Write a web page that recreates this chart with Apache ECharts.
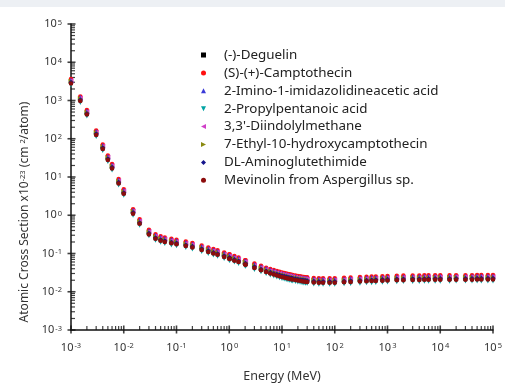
<!DOCTYPE html>
<html>
<head>
<meta charset="utf-8">
<script src="https://cdn.jsdelivr.net/npm/echarts@6/dist/echarts.min.js"></script>
<style>
html,body{margin:0;padding:0;background:#fff;}
#main{width:505px;height:388px;}
</style>
</head>
<body>
<div id="main"></div>
<script>
const energies = [0.001,0.0015,0.002,0.003,0.004,0.005,0.006,0.008,0.01,0.015,0.02,0.03,0.04,0.05,0.06,0.08,0.1,0.15,0.2,0.3,0.4,0.5,0.6,0.8,1,1.022,1.25,1.5,2,2.044,3,4,5,6,7,8,9,10,11,12,13,14,15,16,18,20,22,24,26,28,30,40,50,60,80,100,150,200,300,400,500,600,800,1000,1500,2000,3000,4000,5000,6000,8000,10000,15000,20000,30000,40000,50000,60000,80000,100000];

const seriesNames = ["(-)-Deguelin","(S)-(+)-Camptothecin","2-Imino-1-imidazolidineacetic acid","2-Propylpentanoic acid","3,3'-Diindolylmethane","7-Ethyl-10-hydroxycamptothecin","DL-Aminoglutethimide","Mevinolin from Aspergillus sp."];

const deguelin = [2910,1020,446,131,56.3,29.1,17.5,7.08,3.78,1.14,0.621,0.330,0.252,0.223,0.209,0.192,0.182,0.163,0.150,0.129,0.114,0.104,0.0960,0.0844,0.0757,0.0747,0.0679,0.0621,0.0534,0.0529,0.0437,0.0378,0.0340,0.0312,0.0293,0.0277,0.0265,0.0254,0.0245,0.0239,0.0232,0.0227,0.0222,0.0218,0.0211,0.0206,0.0201,0.0197,0.0194,0.0191,0.0189,0.0182,0.0179,0.0178,0.0178,0.0179,0.0183,0.0187,0.0192,0.0195,0.0198,0.0200,0.0203,0.0205,0.0208,0.0210,0.0211,0.0212,0.0213,0.0214,0.0214,0.0215,0.0215,0.0216,0.0216,0.0216,0.0217,0.0217,0.0217,0.0217];

const camptothecin = [3660,1280,561,165,70.8,36.6,22.0,8.91,4.76,1.44,0.781,0.415,0.317,0.281,0.262,0.242,0.229,0.205,0.189,0.162,0.144,0.131,0.121,0.106,0.0952,0.0939,0.0854,0.0781,0.0671,0.0665,0.0549,0.0476,0.0427,0.0393,0.0368,0.0349,0.0333,0.0320,0.0309,0.0300,0.0292,0.0285,0.0279,0.0275,0.0266,0.0259,0.0253,0.0248,0.0244,0.0240,0.0238,0.0229,0.0226,0.0224,0.0224,0.0226,0.0231,0.0235,0.0242,0.0245,0.0249,0.0251,0.0255,0.0257,0.0261,0.0264,0.0266,0.0267,0.0268,0.0270,0.0270,0.0271,0.0271,0.0272,0.0272,0.0272,0.0273,0.0273,0.0273,0.0273];

const iminoAcid = [3450,1210,529,155,66.7,34.5,20.7,8.40,4.49,1.36,0.736,0.391,0.299,0.265,0.247,0.228,0.216,0.193,0.178,0.153,0.136,0.123,0.114,0.100,0.0897,0.0886,0.0805,0.0736,0.0633,0.0627,0.0518,0.0449,0.0403,0.0370,0.0347,0.0329,0.0314,0.0301,0.0291,0.0283,0.0275,0.0269,0.0263,0.0259,0.0251,0.0244,0.0238,0.0233,0.0230,0.0227,0.0224,0.0216,0.0213,0.0212,0.0212,0.0213,0.0217,0.0222,0.0228,0.0231,0.0235,0.0237,0.0240,0.0243,0.0246,0.0248,0.0251,0.0252,0.0253,0.0254,0.0254,0.0255,0.0255,0.0256,0.0256,0.0256,0.0258,0.0258,0.0258,0.0258];

const propylpentanoic = [2550,893,391,115,49.3,25.5,15.3,6.21,3.32,1.00,0.544,0.289,0.221,0.196,0.183,0.168,0.160,0.143,0.132,0.113,0.100,0.0910,0.0842,0.0740,0.0663,0.0655,0.0595,0.0544,0.0468,0.0463,0.0383,0.0332,0.0298,0.0274,0.0257,0.0243,0.0232,0.0223,0.0215,0.0209,0.0203,0.0199,0.0195,0.0191,0.0185,0.0180,0.0176,0.0173,0.0170,0.0167,0.0166,0.0160,0.0157,0.0156,0.0156,0.0157,0.0161,0.0164,0.0168,0.0171,0.0173,0.0175,0.0178,0.0179,0.0182,0.0184,0.0185,0.0186,0.0187,0.0188,0.0188,0.0189,0.0189,0.0190,0.0190,0.0190,0.0190,0.0190,0.0190,0.0190];

const diindolylmethane = [3300,1160,506,149,63.8,33.0,19.8,8.03,4.29,1.30,0.704,0.374,0.286,0.253,0.237,0.218,0.207,0.185,0.171,0.146,0.130,0.118,0.109,0.0957,0.0858,0.0847,0.0770,0.0704,0.0605,0.0600,0.0495,0.0429,0.0385,0.0354,0.0332,0.0315,0.0300,0.0288,0.0278,0.0271,0.0263,0.0257,0.0252,0.0248,0.0240,0.0233,0.0228,0.0223,0.0220,0.0217,0.0215,0.0207,0.0204,0.0202,0.0202,0.0204,0.0208,0.0212,0.0218,0.0221,0.0224,0.0227,0.0230,0.0232,0.0235,0.0238,0.0240,0.0241,0.0242,0.0243,0.0243,0.0244,0.0244,0.0245,0.0245,0.0245,0.0246,0.0246,0.0246,0.0246];

const ethylHydroxyCampto = [3180,1110,488,143,61.5,31.8,19.1,7.74,4.13,1.25,0.678,0.360,0.276,0.244,0.228,0.210,0.199,0.178,0.164,0.141,0.125,0.113,0.105,0.0922,0.0827,0.0816,0.0742,0.0678,0.0583,0.0578,0.0477,0.0413,0.0371,0.0341,0.0320,0.0303,0.0289,0.0278,0.0268,0.0261,0.0253,0.0248,0.0243,0.0239,0.0231,0.0225,0.0219,0.0215,0.0212,0.0209,0.0207,0.0199,0.0196,0.0195,0.0195,0.0196,0.0200,0.0205,0.0210,0.0213,0.0216,0.0218,0.0222,0.0224,0.0227,0.0229,0.0231,0.0232,0.0233,0.0234,0.0234,0.0235,0.0235,0.0236,0.0236,0.0236,0.0237,0.0237,0.0237,0.0237];

const aminoglutethimide = [3000,1050,460,135,58,30,18,7.3,3.9,1.18,0.64,0.34,0.26,0.23,0.215,0.198,0.188,0.168,0.155,0.133,0.118,0.107,0.099,0.087,0.078,0.077,0.070,0.064,0.055,0.0545,0.045,0.039,0.035,0.0322,0.0302,0.0286,0.0273,0.0262,0.0253,0.0246,0.0239,0.0234,0.0229,0.0225,0.0218,0.0212,0.0207,0.0203,0.0200,0.0197,0.0195,0.0188,0.0185,0.0184,0.0184,0.0185,0.0189,0.0193,0.0198,0.0201,0.0204,0.0206,0.0209,0.0211,0.0214,0.0216,0.0218,0.0219,0.0220,0.0221,0.0221,0.0222,0.0222,0.0223,0.0223,0.0223,0.0224,0.0224,0.0224,0.0224];

const mevinolin = [2790,977,428,126,53.9,27.9,16.7,6.79,3.63,1.10,0.595,0.316,0.242,0.214,0.200,0.184,0.175,0.156,0.144,0.124,0.110,0.0995,0.0921,0.0809,0.0725,0.0716,0.0651,0.0595,0.0512,0.0507,0.0419,0.0363,0.0326,0.0299,0.0281,0.0266,0.0254,0.0244,0.0235,0.0229,0.0222,0.0218,0.0213,0.0209,0.0203,0.0197,0.0193,0.0189,0.0186,0.0183,0.0181,0.0175,0.0172,0.0171,0.0171,0.0172,0.0176,0.0179,0.0184,0.0187,0.0190,0.0192,0.0194,0.0196,0.0199,0.0201,0.0203,0.0204,0.0205,0.0206,0.0206,0.0206,0.0206,0.0207,0.0207,0.0207,0.0208,0.0208,0.0208,0.0208];

const majorTicks = [0.001,0.01,0.1,1,10,100,1000,10000,100000];
const minorTicks = [0.002,0.003,0.004,0.005,0.006,0.007,0.008,0.009,
  0.02,0.03,0.04,0.05,0.06,0.07,0.08,0.09,
  0.2,0.3,0.4,0.5,0.6,0.7,0.8,0.9,
  2,3,4,5,6,7,8,9,
  20,30,40,50,60,70,80,90,
  200,300,400,500,600,700,800,900,
  2000,3000,4000,5000,6000,7000,8000,9000,
  20000,30000,40000,50000,60000,70000,80000,90000];

const seriesData = [deguelin, camptothecin, iminoAcid, propylpentanoic, diindolylmethane, ethylHydroxyCampto, aminoglutethimide, mevinolin];
const colors = ['#000000','#ff1010','#3a3ad8','#00a3a3','#d040c8','#8a8a10','#14148c','#8c0c0c'];
const symbols = ['rect','circle','triangle','path://M0,0 L10,0 L5,10 Z','path://M10,0 L10,10 L0,5 Z','path://M0,0 L0,10 L10,5 Z','diamond','circle'];
const sizes = [4,4.5,5,5,5,5,5,4.5];

const FONT = 'Noto Sans';
const AXMIN = 0.001, AXMAX = 100000;
const supFmt = v => { const e = Math.round(Math.log10(v)); return '10{s|' + e + '}'; };
const labelRich = {
  s: { fontSize: 7.5, fontFamily: FONT, color: '#333', verticalAlign: 'top', lineHeight: 7, padding: [0,0,0,1] }
};

const chart = echarts.init(document.getElementById('main'));

const tickSeries = [
  { type: 'scatter', clip: false, symbol: 'rect', symbolSize: [1.6, 8], symbolOffset: [0, -0.5], itemStyle: { color: '#111' }, data: majorTicks.map(v => [v, AXMIN]) },
  { type: 'scatter', clip: false, symbol: 'rect', symbolSize: [1.2, 4], symbolOffset: [0, -2], itemStyle: { color: '#111' }, data: minorTicks.map(v => [v, AXMIN]) },
  { type: 'scatter', clip: false, symbol: 'rect', symbolSize: [8, 1.6], symbolOffset: [0.5, 0], itemStyle: { color: '#111' }, data: majorTicks.map(v => [AXMIN, v]) },
  { type: 'scatter', clip: false, symbol: 'rect', symbolSize: [4, 1.2], symbolOffset: [2, 0], itemStyle: { color: '#111' }, data: minorTicks.map(v => [AXMIN, v]) }
];

chart.setOption({
  animation: false,
  backgroundColor: '#ffffff',
  graphic: [{ type: 'rect', left: 0, top: 0, shape: { width: 505, height: 7 }, style: { fill: '#edf0f4' }, silent: true }],
  grid: { left: 71, right: 12, top: 24, bottom: 58 },
  legend: {
    orient: 'vertical',
    left: 196,
    top: 43,
    itemWidth: 5,
    itemHeight: 5,
    itemGap: 3.9,
    selectedMode: false,
    textStyle: { fontFamily: FONT, fontSize: 13.4, color: '#222', lineHeight: 14, padding: [0,0,0,13] },
    data: seriesNames.map((n, i) => ({ name: n, icon: symbols[i] }))
  },
  xAxis: {
    type: 'log', logBase: 10, min: AXMIN, max: AXMAX,
    name: 'Energy (MeV)', nameLocation: 'middle', nameGap: 40,
    nameTextStyle: { fontFamily: FONT, fontSize: 12.5, color: '#333' },
    axisLine: { show: true, lineStyle: { color: '#111', width: 1.5 } },
    axisTick: { show: false },
    axisLabel: { show: true, customValues: majorTicks, formatter: supFmt, margin: 12, fontFamily: FONT, fontSize: 11, color: '#333', rich: labelRich },
    splitLine: { show: false }
  },
  yAxis: {
    type: 'log', logBase: 10, min: AXMIN, max: AXMAX,
    name: 'Atomic Cross Section x10{s|-23} (cm {s|2}/atom)',
    nameLocation: 'middle', nameGap: 38, nameRotate: 90,
    nameTextStyle: { fontFamily: FONT, fontSize: 12, color: '#333', padding: [0, 70, 0, 0], rich: { s: { fontSize: 7.5, fontFamily: FONT, color: '#333', verticalAlign: 'top', lineHeight: 7 } } },
    axisLine: { show: true, lineStyle: { color: '#111', width: 1.5 } },
    axisTick: { show: false },
    axisLabel: { show: true, customValues: majorTicks, formatter: supFmt, margin: 9, fontFamily: FONT, fontSize: 11, color: '#333', rich: labelRich },
    splitLine: { show: false }
  },
  series: tickSeries.concat(seriesData.map((arr, i) => ({
    name: seriesNames[i],
    type: 'scatter',
    symbol: symbols[i],
    symbolSize: sizes[i],
    itemStyle: { color: colors[i], opacity: 1 },
    data: energies.map((e, j) => [e, arr[j]])
  })))
});
</script>
</body>
</html>
